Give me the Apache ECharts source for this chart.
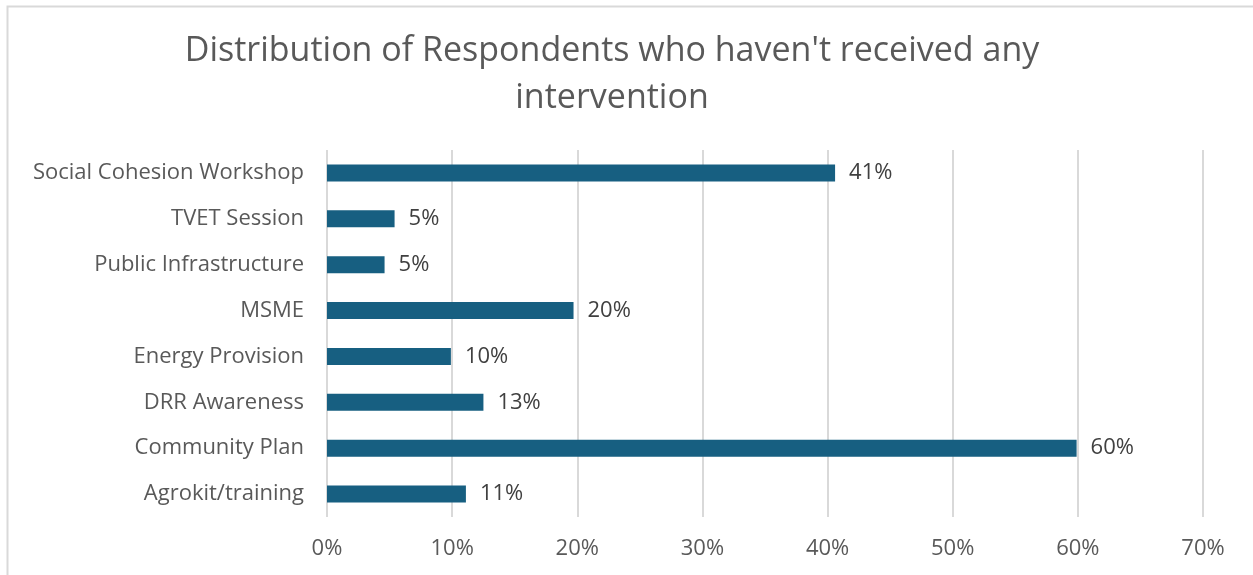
<!DOCTYPE html>
<html>
<head>
<meta charset="utf-8">
<script src="https://cdn.jsdelivr.net/npm/echarts@6/dist/echarts.min.js"></script>
<style>
  html, body { margin: 0; padding: 0; background: #fff; }
  #div1 { width: 1253px; height: 575px; }
</style>
</head>
<body>
<div id="div1"></div>
<script>
// categories listed bottom to top (as the y axis draws them)
var categories = ['Agrokit/training', 'Community Plan', 'DRR Awareness', 'Energy Provision',
                  'MSME', 'Public Infrastructure', 'TVET Session', 'Social Cohesion Workshop'];
var shares = [11.1, 59.9, 12.5, 9.9, 19.7, 4.6, 5.4, 40.6];
var tickValues = [0, 10, 20, 30, 40, 50, 60, 70];

var chart = echarts.init(document.getElementById('div1'));
var textColor = '#595959';
var font = '"Open Sans", sans-serif';

var option = {
    animation: false,
    textStyle: { fontFamily: font },
    title: {
        text: "Distribution of Respondents who haven't received any\nintervention",
        left: 607,
        top: 23,
        textAlign: 'center',
        textStyle: { color: textColor, fontSize: 34, fontWeight: 'normal', lineHeight: 47, fontFamily: font }
    },
    graphic: [{
        type: 'rect',
        shape: { x: 7.5, y: 6.5, width: 1300, height: 700 },
        style: { fill: 'none', stroke: '#d9d9d9', lineWidth: 2 },
        silent: true
    }],
    grid: { left: 327, right: 50, top: 150, bottom: 58, containLabel: false },
    xAxis: {
        type: 'value',
        min: tickValues[0],
        max: tickValues[tickValues.length - 1],
        interval: 10,
        axisLine: { show: false },
        axisTick: { show: false },
        splitLine: { lineStyle: { color: '#d9d9d9', width: 2 } },
        axisLabel: { color: textColor, fontSize: 22, margin: 21, formatter: '{value}%' }
    },
    yAxis: {
        type: 'category',
        data: categories,
        axisLine: { show: false },
        axisTick: { show: false },
        axisLabel: { color: textColor, fontSize: 22, margin: 23 }
    },
    series: [{
        type: 'bar',
        data: shares,
        barWidth: 17,
        itemStyle: { color: '#175f81' },
        label: {
            show: true,
            position: 'right',
            distance: 14,
            color: '#404040',
            fontSize: 22,
            formatter: function (p) { return Math.round(p.value) + '%'; }
        }
    }]
};

chart.setOption(option);
</script>
</body>
</html>
